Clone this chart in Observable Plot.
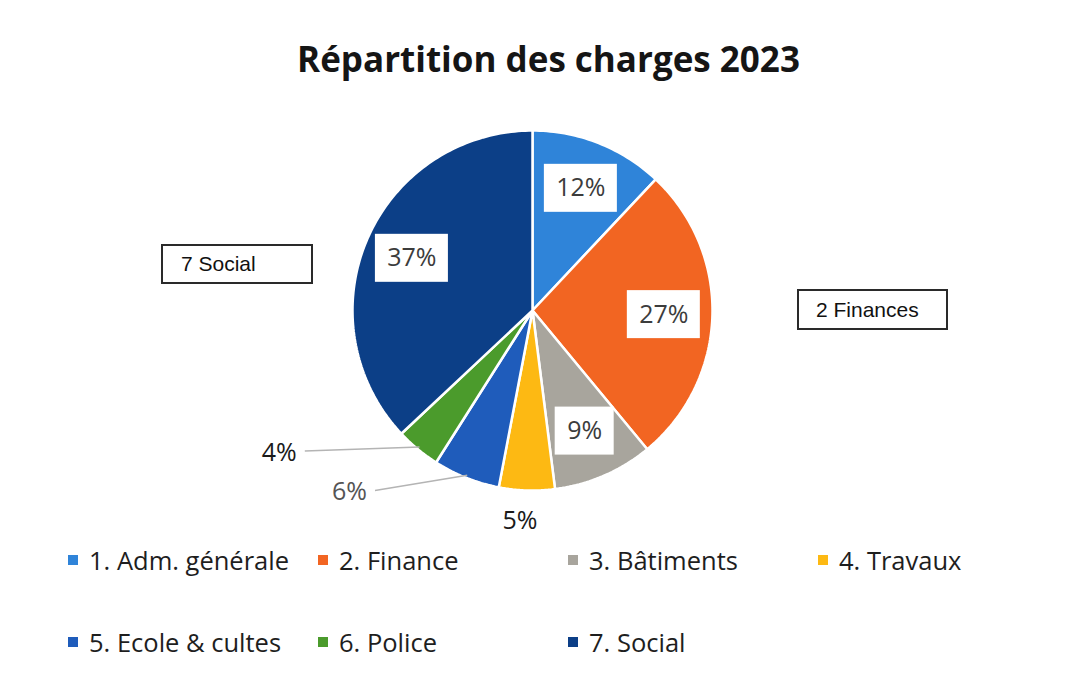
<!DOCTYPE html>
<html><head><meta charset="utf-8">
<script src="https://cdn.jsdelivr.net/npm/d3@7"></script>
<script src="https://cdn.jsdelivr.net/npm/@observablehq/plot@0.6"></script>
<style>
body{margin:0;background:#fff;font-family:"Open Sans",sans-serif;}
#wrap{position:relative;width:1070px;height:695px;overflow:hidden;background:#fff}
#title{position:absolute;left:0;width:1097px;top:35px;text-align:center;font-weight:700;font-size:35px;color:#151515;line-height:normal;white-space:nowrap}
#chart{position:absolute;left:0;top:100px}
.box{position:absolute;box-sizing:border-box;border:2px solid #2a2a2a;background:#fff;font-family:"Liberation Sans",Arial,sans-serif;font-size:21px;color:#111;display:flex;align-items:center}
.lg{position:absolute;height:32px;display:flex;align-items:center;font-size:25.5px;color:#1e1e1e;white-space:nowrap;line-height:32px}
.lg span.sw{display:inline-block;width:10px;height:10px;margin-right:11px}
</style></head>
<body><div id="wrap"><div id="title"></div><div id="chart"></div></div>
<script>
const title = "Répartition des charges 2023";
const categories = ["1. Adm. générale","2. Finance","3. Bâtiments","4. Travaux","5. Ecole & cultes","6. Police","7. Social"];
const shares = [12, 27, 9, 5, 6, 4, 37];
const pctLabels = ["12%","27%","9%","5%","6%","4%","37%"];
const colors = ["#2F84D9","#F26522","#A8A59D","#FDB913","#1F5CBB","#4B9B2C","#0C3F87"];
const notes = ["7 Social","2 Finances"];

// layout (pixels)
const W = 1070, H = 440, cx = 532, cy = 210, R = 180;
// label placement: inside at radius fraction, or outside anchor (in radius units)
const insideR = 0.73;
const outside = {3:{x:-0.07,y:-1.17,anchor:"middle",leader:false,fill:"#1a1a1a"},
                 4:{x:-0.92,y:-1.01,anchor:"end",leader:true,fill:"#555"},
                 5:{x:-1.31,y:-0.79,anchor:"end",leader:true,fill:"#1a1a1a"}};

document.getElementById("title").textContent = title;

const arcs = d3.pie().sort(null).value(d => d)(shares);
const pts = [];
arcs.forEach((a, i) => {
  const cat = categories[i];
  pts.push({cat, x:0, y:0});
  const n = Math.max(4, Math.ceil((a.endAngle - a.startAngle) / 0.02));
  for (let k = 0; k <= n; k++) {
    const t = a.startAngle + (a.endAngle - a.startAngle) * k / n;
    pts.push({cat, x:Math.sin(t), y:Math.cos(t)});
  }
  pts.push({cat, x:0, y:0});
});

const inLabels = [], outLabels = [], leaders = [];
arcs.forEach((a, i) => {
  const m = (a.startAngle + a.endAngle) / 2;
  const txt = pctLabels[i];
  if (outside[i]) {
    const o = outside[i];
    outLabels.push({x:o.x, y:o.y, text:txt, anchor:o.anchor, fill:o.fill});
    if (o.leader) leaders.push({x1:o.x + 0.045, y1:o.y + 0.01, x2:Math.sin(m)*0.985, y2:Math.cos(m)*0.985});
  } else {
    const x = Math.sin(m)*insideR, y = Math.cos(m)*insideR;
    const hw = (14*txt.length + 31)/2/R, hh = 24/R;
    inLabels.push({x, y, text:txt, x1:x-hw, x2:x+hw, y1:y-hh, y2:y+hh});
  }
});

const chart = Plot.plot({
  width: W, height: H, margin: 0,
  x: {domain: [-cx/R, (W-cx)/R], axis: null},
  y: {domain: [-(H-cy)/R, cy/R], axis: null},
  color: {domain: categories, range: colors},
  style: {fontFamily: "Open Sans", background: "transparent"},
  marks: [
    Plot.line(pts, {x:"x", y:"y", z:"cat", fill:"cat", stroke:"white", strokeWidth:2.5, strokeLinejoin:"miter"}),
    Plot.link(leaders, {x1:"x1", y1:"y1", x2:"x2", y2:"y2", stroke:"#b4b4b4", strokeWidth:1.5}),
    Plot.rect(inLabels, {x1:"x1", x2:"x2", y1:"y1", y2:"y2", fill:"white"}),
    Plot.text(inLabels, {x:"x", y:"y", text:"text", fontSize:25, fill:"#3c3c3c"}),
    Plot.text(outLabels.filter(d=>d.anchor==="middle"), {x:"x", y:"y", text:"text", fontSize:25, fill:d=>d.fill, textAnchor:"middle"}),
    Plot.text(outLabels.filter(d=>d.anchor==="end"), {x:"x", y:"y", text:"text", fontSize:25, fill:d=>d.fill, textAnchor:"end"})
  ]
});
document.getElementById("chart").appendChild(chart);

const wrap = document.getElementById("wrap");
// annotation boxes
const boxPos = [{left:161, top:244, w:152, h:40, pad:18}, {left:797, top:289, w:151, h:41, pad:17}];
notes.forEach((t, i) => {
  const b = document.createElement("div");
  b.className = "box";
  const p = boxPos[i];
  b.style.left = p.left + "px"; b.style.top = p.top + "px";
  b.style.width = p.w + "px"; b.style.height = p.h + "px"; b.style.paddingLeft = p.pad + "px";
  b.textContent = t;
  wrap.appendChild(b);
});

// legend
categories.forEach((c, i) => {
  const col = i % 4, row = Math.floor(i / 4);
  const d = document.createElement("div");
  d.className = "lg";
  d.style.left = (68 + 250*col) + "px";
  d.style.top = (544 + 82*row) + "px";
  const sw = document.createElement("span");
  sw.className = "sw"; sw.style.background = colors[i];
  d.appendChild(sw);
  d.appendChild(document.createTextNode(c));
  wrap.appendChild(d);
});
</script></body></html>
